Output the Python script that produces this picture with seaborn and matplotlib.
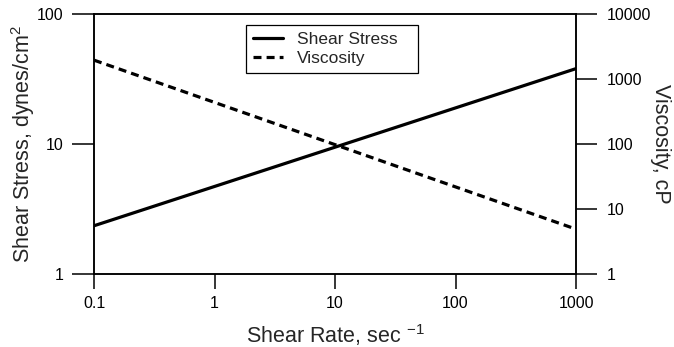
import matplotlib
matplotlib.use("Agg")
import matplotlib.pyplot as plt
import seaborn as sns
import pandas as pd
from matplotlib.ticker import FixedLocator, FixedFormatter, NullLocator

# Flow curve of a shear-thinning fluid (power-law behaviour)
shear_rate = [0.1, 1000]          # sec^-1
shear_stress = [2.35, 38.0]       # dynes/cm^2
viscosity = [1950.0, 4.9]         # cP

x_ticks = [0.1, 1, 10, 100, 1000]
x_tick_labels = ["0.1", "1", "10", "100", "1000"]
left_ticks = [1, 10, 100]
left_tick_labels = ["1", "10", "100"]
right_ticks = [1, 10, 100, 1000, 10000]
right_tick_labels = ["1", "10", "100", "1000", "10000"]

sns.set_style("ticks")
plt.rcParams["font.family"] = ["Liberation Sans", "DejaVu Sans"]
plt.rcParams["mathtext.fontset"] = "custom"
plt.rcParams["mathtext.rm"] = "Liberation Sans"
plt.rcParams["mathtext.it"] = "Liberation Sans"
plt.rcParams["mathtext.default"] = "regular"

df = pd.DataFrame({"rate": shear_rate, "stress": shear_stress, "visc": viscosity})

fig = plt.figure(figsize=(6.74, 3.47), dpi=100)
ax = fig.add_axes([94 / 674, 1 - 274 / 347, (576 - 94) / 674, (274 - 14) / 347])
ax2 = ax.twinx()

sns.lineplot(data=df, x="rate", y="stress", ax=ax, color="black", lw=2.3,
             label="Shear Stress", legend=False)
sns.lineplot(data=df, x="rate", y="visc", ax=ax2, color="black", lw=2.3,
             label="Viscosity", legend=False)
ax2.lines[0].set_dashes([2.5, 1.6])

for a in (ax, ax2):
    a.set_xscale("log")
    a.set_yscale("log")
    a.set_xlim(0.1, 1000)

ax.set_ylim(1, 100)
ax2.set_ylim(1, 10000)

ax.xaxis.set_major_locator(FixedLocator(x_ticks))
ax.xaxis.set_major_formatter(FixedFormatter(x_tick_labels))
ax.xaxis.set_minor_locator(NullLocator())
ax.yaxis.set_major_locator(FixedLocator(left_ticks))
ax.yaxis.set_major_formatter(FixedFormatter(left_tick_labels))
ax.yaxis.set_minor_locator(NullLocator())
ax2.yaxis.set_major_locator(FixedLocator(right_ticks))
ax2.yaxis.set_major_formatter(FixedFormatter(right_tick_labels))
ax2.yaxis.set_minor_locator(NullLocator())

for a in (ax, ax2):
    for s in a.spines.values():
        s.set_visible(True)
        s.set_linewidth(1.1)
        s.set_color("black")

ax.tick_params(axis="x", which="major", direction="out", length=11, width=1.1,
               pad=5, labelsize=11.5, colors="black")
ax.tick_params(axis="y", which="major", direction="out", length=16, width=1.1,
               pad=6, labelsize=11.5, colors="black")
ax2.tick_params(axis="y", which="major", direction="out", length=15, width=1.1,
                pad=7, labelsize=11.5, colors="black")

ax.set_xlabel("Shear Rate, sec $^{-1}$", fontsize=15.5, labelpad=8)
ax.set_ylabel("Shear Stress, dynes/cm$^{2}$", fontsize=15.5, labelpad=0)
ax2.set_ylabel("Viscosity, cP", fontsize=15.5, rotation=-90, labelpad=14.5)

handles = ax.get_lines() + ax2.get_lines()
leg = ax.legend(handles, [h.get_label() for h in handles], loc="upper left",
                bbox_to_anchor=(0.3154, 0.5, 0.357, 0.4577), mode="expand",
                fontsize=12.5, frameon=True,
                fancybox=False, framealpha=1, edgecolor="black",
                handlelength=1.75, borderpad=0.4, labelspacing=0.2,
                handletextpad=0.8, borderaxespad=0)
leg.get_frame().set_linewidth(0.9)

fig.savefig("out.png", dpi=100)
